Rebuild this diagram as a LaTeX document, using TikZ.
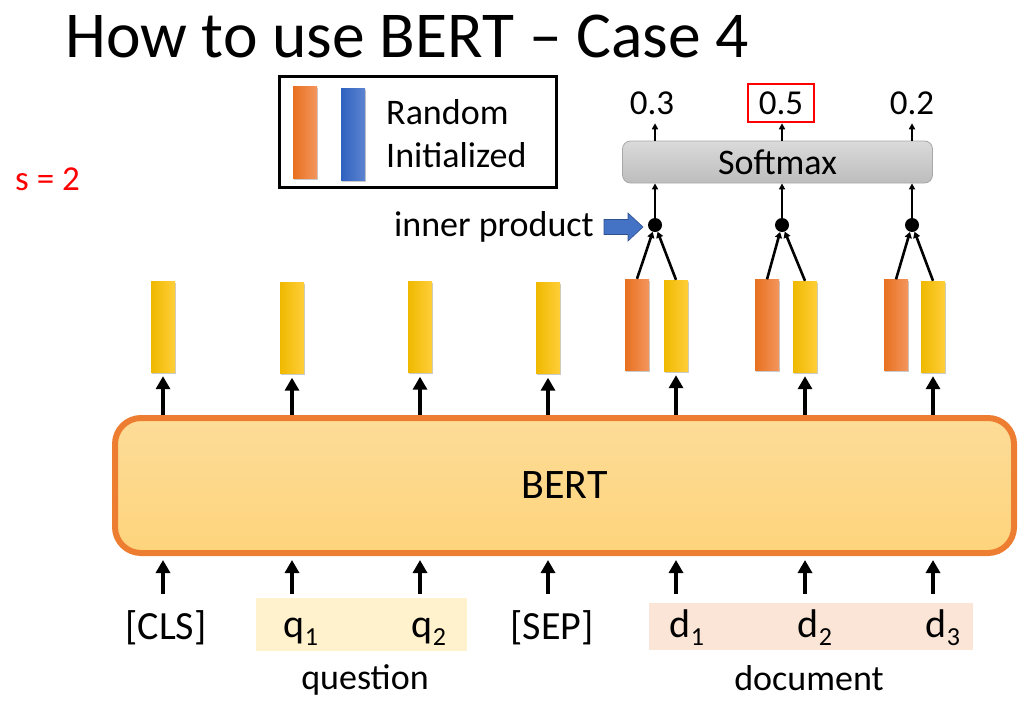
\documentclass[tikz,border=0pt]{standalone}
\usepackage{fontspec}
\setmainfont{Carlito}
\usetikzlibrary{arrows.meta,shadows}
\definecolor{barorangeL}{HTML}{E8701F}
\definecolor{barorangeR}{HTML}{F4965E}
\definecolor{baryellowL}{HTML}{EFB800}
\definecolor{baryellowR}{HTML}{FFCF3A}
\definecolor{barblueL}{HTML}{2E62C0}
\definecolor{barblueR}{HTML}{5D84D0}
\definecolor{bertedge}{HTML}{ED7D31}
\definecolor{berttop}{HTML}{FDDC98}
\definecolor{bertbot}{HTML}{FED47C}
\definecolor{qbg}{HTML}{FFF2CC}
\definecolor{dbg}{HTML}{FBE5D6}
\definecolor{arrowblue}{HTML}{4472C4}
\definecolor{arrowblueedge}{HTML}{2F528F}
\definecolor{smtop}{HTML}{DADADA}
\definecolor{smbot}{HTML}{BDBDBD}
\definecolor{smedge}{HTML}{A8A8A8}
\newcommand{\fs}[1]{\fontsize{#1}{#1}\selectfont}
\newcommand{\mysub}[1]{\raisebox{-8pt}{\fontsize{26}{26}\selectfont #1}}
\tikzset{
  vecbar/.style={minimum width=24pt, minimum height=91pt, inner sep=0pt, draw=none,
    drop shadow={shadow xshift=1.2pt, shadow yshift=-1.5pt, opacity=0.35, fill=black!60}},
  ybar/.style={vecbar, left color=baryellowL, right color=baryellowR},
  obar/.style={vecbar, left color=barorangeL, right color=barorangeR},
  bbar/.style={vecbar, left color=barblueL, right color=barblueR},
  bigarrow/.style={line width=3.6pt, -{Triangle[length=13pt, width=14pt]}},
  smallarrow/.style={line width=2pt, -{Triangle[length=6pt, width=6pt]}},
  ipline/.style={line width=2.6pt, -{Triangle[length=6pt, width=7pt]}},
  dotnode/.style={circle, fill=black, inner sep=0pt, minimum size=14pt},
  tok/.style={font=\fs{40}, inner sep=0pt, anchor=base},
  lbl/.style={font=\fs{35}, inner sep=0pt},
}
\begin{document}
\begin{tikzpicture}[x=1pt,y=-1pt]
\useasboundingbox (0,0) rectangle (1032,707);

% title
\node[anchor=base west, inner sep=0pt, font=\fs{65.5}] (title) at (65,57) {How to use BERT – Case 4};
\node[anchor=base west, inner sep=0pt, font=\fs{35}, text=red] (s) at (15,190) {s = 2};

% legend
\node[draw=black, line width=3pt, minimum width=277pt, minimum height=111pt, inner sep=0pt] (legend) at (417.5,131.5) {};
\node[obar, minimum height=92pt] (lo) at (305,132) {};
\node[bbar, minimum height=92pt] (lb) at (353,134) {};
\node[anchor=base west, inner sep=0pt, font=\fs{36}] (lr) at (386,124) {Random};
\node[anchor=base west, inner sep=0pt, font=\fs{36}] (li) at (386,167) {Initialized};

% BERT box
\node[draw=bertedge, line width=6pt, rounded corners=26pt, top color=berttop, bottom color=bertbot,
      minimum width=899pt, minimum height=135pt, inner sep=0pt, font=\fs{42}] (bert) at (564.5,485.5) {BERT};

% output vectors
\node[ybar] (y1) at (163,326.5) {};
\node[ybar] (y2) at (292,328) {};
\node[ybar] (y3) at (420,327) {};
\node[ybar] (y4) at (548,328) {};
\node[ybar] (y5) at (676,325.5) {};
\node[ybar] (y6) at (805,326.5) {};
\node[ybar] (y7) at (933,326.5) {};
\node[obar] (o5) at (637,324.5) {};
\node[obar] (o6) at (767,325) {};
\node[obar] (o7) at (896,325) {};

% input token backgrounds
\node[fill=qbg, minimum width=211pt, minimum height=53pt, inner sep=0pt] (qbox) at (361.5,624.5) {};
\node[fill=dbg, minimum width=324pt, minimum height=47pt, inner sep=0pt] (dbox) at (811,626.5) {};

% arrows BERT -> vectors and tokens -> BERT
\foreach \v in {y1,y2,y3,y4,y5,y6,y7} {
  \draw[bigarrow, shorten >=4pt] (\v |- bert.north) -- (\v.south);
  \draw[bigarrow, shorten <=4pt, shorten >=4pt] (\v |- qbox.north) -- (\v |- bert.south);
}

% inner product dots
\node[dotnode] (p5) at (655,225) {};
\node[dotnode] (p6) at (782,225) {};
\node[dotnode] (p7) at (912,225) {};
\foreach \o/\y/\p in {o5/y5/p5, o6/y6/p6, o7/y7/p7} {
  \draw[ipline] (\o.north) -- (\p);
  \draw[ipline] (\y.north) -- (\p);
}

% softmax
\node[draw=smedge, line width=0.8pt, rounded corners=8pt, top color=smtop, bottom color=smbot,
      minimum width=310pt, minimum height=42pt, inner sep=0pt, font=\fs{36}] (sm) at (777.5,162) {Softmax};
\foreach \p in {p5,p6,p7} {
  \draw[smallarrow] (\p.center) -- (\p |- sm.south);
}

% outputs
\node[lbl, anchor=base] (o03) at (652,114) {0.3};
\node[lbl, anchor=base] (o05) at (781,114) {0.5};
\node[lbl, anchor=base] (o02) at (912,114) {0.2};
\node[draw=red, line width=2.5pt, minimum width=66pt, minimum height=38pt, inner sep=0pt] (redbox) at (781,103) {};
\foreach \p in {p5,p6,p7} {
  \draw[smallarrow] (\p |- sm.north) -- (\p |- redbox.south);
}

% inner product label and arrow
\node[anchor=base east, inner sep=0pt, font=\fs{36}] (ip) at (594,236) {inner product};
\fill[arrowblue, draw=arrowblueedge, line width=0.6pt]
  (604,219.5) -- (628,219.5) -- (628,213) -- (643,227) -- (628,241) -- (628,234.5) -- (604,234.5) -- cycle;

% tokens
\node[tok] (cls) at (166,639) {[CLS]};
\node[tok] (q1) at (301,637) {q\mysub{1}};
\node[tok] (q2) at (429,637) {q\mysub{2}};
\node[tok] (sep) at (552,639) {[SEP]};
\node[tok] (d1) at (687,637) {d\mysub{1}};
\node[tok] (d2) at (815,637) {d\mysub{2}};
\node[tok] (d3) at (943,637) {d\mysub{3}};

\node[anchor=base, inner sep=0pt, font=\fs{36}] (question) at (365,689) {question};
\node[anchor=base, inner sep=0pt, font=\fs{36}] (document) at (809,690) {document};
\end{tikzpicture}
\end{document}
